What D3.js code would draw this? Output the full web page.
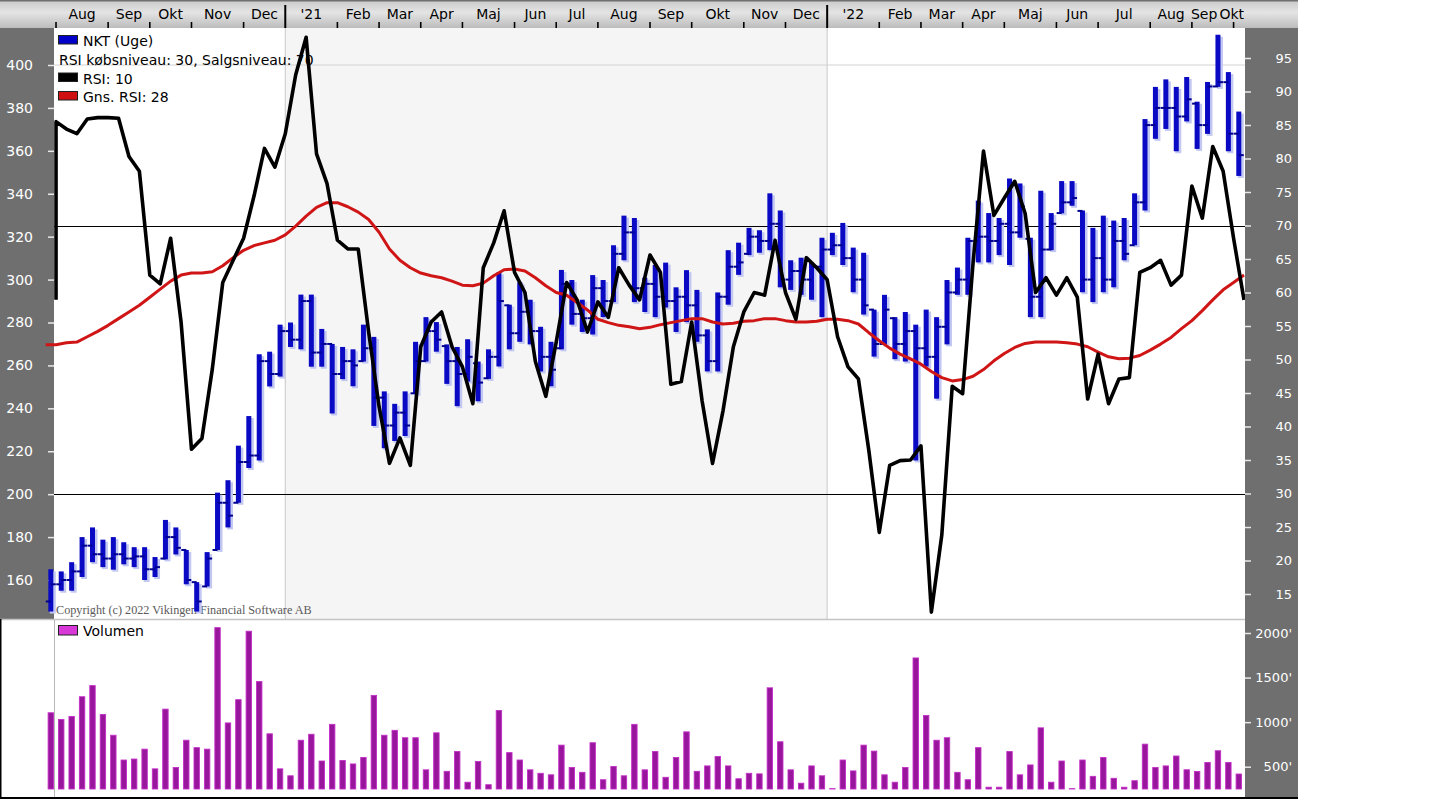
<!DOCTYPE html>
<html><head><meta charset="utf-8">
<script src="https://cdn.jsdelivr.net/npm/d3@7"></script>
<style>
html,body{margin:0;padding:0;background:#fff;}
svg{display:block;}
</style></head><body>
<svg id="c" width="1440" height="809" font-family="DejaVu Sans, sans-serif"></svg>
<script>
// ---------- DATA ----------
const firstWeek = new Date(2020, 6, 26);   // week ending Sun 26 Jul 2020
const stopWeek  = new Date(2022, 9, 3);    // last week ends Sun 2 Oct 2022
const monthNames = ["Jan","Feb","Mar","Apr","Maj","Jun","Jul","Aug","Sep","Okt","Nov","Dec"];
const priceTicks = [160,180,200,220,240,260,280,300,320,340,360,380,400];
const rsiTicks = [15,20,25,30,35,40,45,50,55,60,65,70,75,80,85,90,95];
const volTicks = [500,1000,1500,2000];
const rsiLevels = [30,70];
const legendLabels = ["NKT (Uge)","RSI købsniveau: 30, Salgsniveau: 70","RSI: 10","Gns. RSI: 28"];
const volLabel = "Volumen";
const copyright = "Copyright (c) 2022 Vikingen Financial Software AB";

const high = [165,164,168.3,180,184.5,178.8,180,177.6,175.3,175.3,
170.7,188,184.5,174,159,173,200.7,206.5,222.6,236.4,
265.2,266.4,279,280,293,293,277,270,268.6,267.5,
279,273.3,247.9,242.1,247.9,271,282.5,280.2,269.8,268.6,
272.2,261.8,267.5,303.3,288.3,298.7,290.6,278,271,304.5,
299.8,290.6,302.1,299.8,316,329.8,328.7,300.9,306.8,307.9,
296.4,304.4,295.2,276.8,294,313.7,317.2,324.1,323,340.2,
332.2,309,310.2,307.9,319.5,321.8,326.4,314.9,312.5,286,
292.9,282.5,284.9,279,286,282.5,299.8,305.6,319.5,336.8,
331,328.7,347.1,344.8,319.5,341.4,331,345.9,345.9,332.2,
324.1,329.8,327.5,328.7,340.2,374.8,389.8,393.3,389.8,394.4,
382.9,392.1,414.1,396.7,378.3];
const low = [145.3,155,155,161.4,168.3,166,164.8,167.3,166,160,
161.4,169.6,171.9,158,145.3,157,174,184.5,196,212.2,
215.7,250.2,254.8,268.6,267.5,259.4,259.4,237.6,253.6,250.3,
261.8,231.8,221.4,224.8,227.1,246.8,261.8,266.4,251.4,241,
252.5,243.3,253.7,259.5,267.5,271,269.8,257.2,250.3,267.5,
279,275.6,274.4,282.5,289.5,309,289.5,284.9,282.5,287,
275.6,280.2,271,257.2,257.2,288.3,302.2,311.4,312.5,313.7,
296.4,295.2,292.9,290.6,282.5,311.4,306.8,294.1,283.7,264.1,
269.8,262.9,261.8,215.7,259.5,244.5,269.8,292.9,292.9,308,
308,311.4,306.8,319.5,282.5,282.5,313.7,330.9,334.4,294.1,
289.5,294.1,296.4,309,316,332.2,365.6,370.2,359.8,373.7,
360.9,367.9,389.8,359.8,348.3];
const open = [150,158,160,164,176,172,170,172,170,171,
165,170,180,174,159,157,174,196,196,215,
218,262,256,276,272,290,266,270,256,262,
262,268,245,232,238,247,262,276,269,262,
256,261,254,264,288,275,285,276,264,268,
298,284,282,296,290,312,322,296,298,292,
290,292,288,274,262,292,306,312,320,318,
326,300,304,300,306,314,316,310,300,286,
270,282,270,276,268,264,278,294,300,318,
320,318,326,322,319,292,314,331,336,332,
300,310,300,318,316,336,372,380,380,376,
382,372,390,392,368];
const close = [158,160,164,176,172,170,172,170,171,165,
166,180,175,160,150,170,196,190,215,218,
262,256,276,272,290,266,270,256,262,260,
268,245,232,238,232,262,276,272,262,256,
264,252,264,290,275,285,276,264,258,298,
284,282,296,290,312,322,296,298,292,290,
292,288,274,262,292,306,308,320,318,326,
300,304,300,306,314,316,310,300,288,270,
286,270,276,268,264,278,294,300,318,320,
318,326,322,334,292,314,326,336,338,300,
310,300,318,312,336,372,380,380,376,384,
372,390,392,368,358];
const rsiStart = 58.9;
const rsi = [85.5,84.4,83.7,85.9,86.1,86.1,86.0,80.3,78.1,62.6,
61.3,68.1,55.6,36.6,38.2,48.6,61.5,64.8,68.1,74.4,
81.5,78.7,83.7,92.5,98.1,80.7,76.3,67.8,66.5,66.5,
54.1,43.0,34.5,38.3,34.2,51.9,55.6,57.1,51.9,48.9,
43.4,63.7,67.4,72.2,63.0,60.0,49.7,44.5,52.6,61.5,
58.9,54.1,58.6,56.3,63.7,61.1,58.9,65.6,63.0,46.3,
46.7,55.6,43.8,34.5,42.3,51.9,57.1,60.0,59.6,67.8,
60.0,56.0,65.2,63.7,61.9,53.4,48.9,47.1,36.4,24.2,
34.2,34.9,35.0,37.1,12.3,23.8,46.0,44.9,64.4,81.1,
71.5,74.1,76.6,71.8,60.0,62.2,59.6,62.2,59.3,44.1,
50.8,43.4,47.1,47.3,63.0,63.7,64.8,61.1,62.6,75.9,
71.1,81.8,78.1,68.1,58.9];
const rsiAvg = [52.2,52.5,52.6,53.4,54.2,55.1,56.1,57.1,58.1,59.3,
60.5,61.7,62.6,62.9,62.9,63.1,64.0,65.2,66.3,67.0,
67.4,67.8,68.6,69.9,71.4,72.7,73.4,73.4,72.8,72.0,
70.9,69.0,66.5,64.8,63.7,62.9,62.5,62.2,61.7,61.1,
61.0,61.4,62.5,63.4,63.5,63.2,62.2,61.0,60.0,59.6,
58.5,57.4,56.0,55.5,55.1,54.9,54.6,54.8,55.2,55.5,
55.8,56.1,56.1,55.6,55.3,55.4,55.7,55.8,56.1,56.1,
55.8,55.6,55.6,55.7,56.0,56.0,55.8,55.3,54.0,52.8,
51.7,50.8,50.1,49.3,48.2,47.3,46.8,47.0,47.5,48.5,
49.8,50.9,51.8,52.4,52.6,52.6,52.6,52.5,52.3,51.9,
51.1,50.4,50.1,50.2,50.6,51.4,52.3,53.3,54.6,55.8,
57.3,58.9,60.4,61.5,62.6];
const volume = [1105,1030,1063,1285,1410,1085,853,575,586,697,
476,1146,492,797,714,697,2060,991,1252,2020,
1455,869,476,398,797,864,564,975,570,531,
603,1300,853,908,825,825,465,880,448,670,
326,559,298,1130,658,575,465,426,409,742,
492,437,769,354,503,398,975,465,670,381,
603,891,448,509,614,509,365,426,420,1385,
780,465,315,509,398,254,575,453,742,675,
409,326,492,1720,1074,797,825,437,354,714,
270,270,670,409,520,936,326,564,254,575,
392,603,370,270,343,753,492,509,620,466,
447,548,679,548,418];

// ---------- LAYOUT ----------
const L = 54, R = 1245, RA = 1298, TOP = 28, PB = 619, VT = 620, VB = 797;
const svg = d3.select('#c');

const weeks = d3.timeSunday.range(firstWeek, stopWeek);
const idx = d3.range(weeks.length);
const x = d3.scaleBand().domain(weeks).range([45.6, 1244]).padding(0);
const bw = x.bandwidth();
const cx = i => x(weeks[i]) + bw / 2;
const xr = i => x(weeks[i]) + bw;
const yP = d3.scaleLinear().domain([160, 400]).range([580, 65]);
const yR = d3.scaleLinear().domain([15, 95]).range([594, 58]);
const yV = d3.scaleLinear().domain([250, 2000]).range([789, 633]);

const defs = svg.append('defs');
const gr = defs.append('linearGradient').attr('id','topg').attr('x1',0).attr('y1',0).attr('x2',0).attr('y2',1);
gr.append('stop').attr('offset','0').attr('stop-color','#c9c9c9');
gr.append('stop').attr('offset','0.45').attr('stop-color','#e4e4e4');
gr.append('stop').attr('offset','1').attr('stop-color','#bcbcbc');
defs.append('clipPath').attr('id','clipP').append('rect').attr('x',45).attr('y',TOP).attr('width',R-45).attr('height',PB-TOP);
defs.append('clipPath').attr('id','clipV').append('rect').attr('x',45).attr('y',VT).attr('width',R-45).attr('height',VB-VT);

// month ticks
const months = [];
idx.forEach(i => { if (i > 0 && weeks[i].getMonth() !== weeks[i-1].getMonth()) months.push(i); });
const yearStarts = months.filter(i => weeks[i].getMonth() === 0);

// top strip
svg.append('rect').attr('x',0).attr('y',0).attr('width',RA).attr('height',TOP).attr('fill','url(#topg)');
svg.append('rect').attr('x',0).attr('y',0).attr('width',RA).attr('height',1.5).attr('fill','#707070');

// price panel background
svg.append('rect').attr('x',L).attr('y',TOP).attr('width',R-L).attr('height',PB-TOP).attr('fill','#fff');
svg.append('rect').attr('x',x(weeks[yearStarts[0]])).attr('y',TOP)
  .attr('width',x(weeks[yearStarts[1]])-x(weeks[yearStarts[0]])).attr('height',PB-TOP).attr('fill','#f5f5f5');
yearStarts.forEach(i => svg.append('line').attr('x1',x(weeks[i])).attr('x2',x(weeks[i]))
  .attr('y1',TOP).attr('y2',PB).attr('stroke','#c8c8c8').attr('stroke-width',1));
svg.append('line').attr('x1',L).attr('x2',R).attr('y1',yP(400)).attr('y2',yP(400)).attr('stroke','#d2d2d2');

// axis blocks
svg.append('rect').attr('x',0).attr('y',TOP).attr('width',L).attr('height',PB-TOP).attr('fill','#6f6f6f');
svg.append('rect').attr('x',R).attr('y',TOP).attr('width',RA-R).attr('height',VB-TOP).attr('fill','#6f6f6f');
svg.append('line').attr('x1',0).attr('x2',R).attr('y1',PB+0.5).attr('y2',PB+0.5).attr('stroke','#c4c4c4').attr('stroke-width',1.5);

// rsi levels
rsiLevels.forEach(v => svg.append('line').attr('x1',L).attr('x2',R).attr('y1',Math.round(yR(v))+0.5).attr('y2',Math.round(yR(v))+0.5)
  .attr('stroke','#000').attr('stroke-width',1.2));

// top axis ticks & labels
const gt = svg.append('g');
const labs = [];
months.forEach((i, k) => {
  const tx = x(weeks[i]);
  const isYear = weeks[i].getMonth() === 0;
  gt.append('line').attr('x1',tx).attr('x2',tx).attr('y1',isYear?5:22).attr('y2',TOP)
    .attr('stroke','#000').attr('stroke-width',isYear?2:1.6);
  const nx = k < months.length - 1 ? x(weeks[months[k+1]]) : x.range()[1];
  const lab = isYear ? "'" + String(weeks[i].getFullYear()).slice(2) : monthNames[weeks[i].getMonth()];
  const t = gt.append('text').attr('y',19).attr('font-size','14px').attr('fill','#000').attr('text-anchor','middle').text(lab);
  const w = t.node().getComputedTextLength();
  labs.push({t, w, cx: (tx + nx) / 2});
});
// keep labels inside the panel and from running into each other
for (let k = labs.length - 1; k >= 0; k--) {
  let c = Math.min(labs[k].cx, R - labs[k].w / 2 - 1);
  if (k < labs.length - 1) c = Math.min(c, labs[k+1].cx - labs[k+1].w / 2 - labs[k].w / 2 - 2);
  labs[k].cx = c;
  labs[k].t.attr('x', c);
}

// legend
const lg = svg.append('g').attr('font-size','14px').attr('fill','#000');
const swatch = [ '#0000c8', null, '#000000', '#d01010' ];
[46, 65, 83.5, 102].forEach((by, k) => {
  if (swatch[k]) lg.append('rect').attr('x',58.5).attr('y',by-10.5).attr('width',19).attr('height',8.5)
      .attr('fill',swatch[k]).attr('stroke','#202020').attr('stroke-width',1);
  lg.append('text').attr('x', swatch[k] ? 83 : 59).attr('y', by).text(legendLabels[k]);
});
svg.append('text').attr('x',56).attr('y',614).style('font-family','"Liberation Serif", serif').style('font-size','12.2px')
  .attr('fill','#5a5a5a').text(copyright);

// axes
const gL = svg.append('g').attr('transform',`translate(${L},0)`)
  .call(d3.axisLeft(yP).tickValues(priceTicks).tickSize(6).tickPadding(15));
const gR = svg.append('g').attr('transform',`translate(${R},0)`)
  .call(d3.axisRight(yR).tickValues(rsiTicks).tickSize(6).tickPadding(6));
const gV = svg.append('g').attr('transform',`translate(${R},0)`)
  .call(d3.axisRight(yV).tickValues(volTicks).tickSize(6).tickPadding(6).tickFormat(d => d + "'"));
[gL, gR, gV].forEach(g => {
  g.attr('font-family', null);
  g.select('.domain').remove();
  g.selectAll('.tick line').attr('stroke','#e8e8e8').attr('stroke-width',1.5);
  g.selectAll('.tick text').attr('fill','#fff');
});
gL.attr('font-size', 14);
gR.attr('font-size', 13); gV.attr('font-size', 13);
[gR, gV].forEach(g => g.selectAll('.tick text').attr('x',47).attr('text-anchor','end'));

// price bars
const plot = svg.append('g').attr('clip-path','url(#clipP)');
plot.append('g').selectAll('rect').data(idx).join('rect')
  .attr('x', i => cx(i) - 1).attr('y', i => yP(high[i]) + 2).attr('width', 6)
  .attr('height', i => yP(low[i]) - yP(high[i])).attr('fill','#c3c8f2');
plot.append('g').selectAll('rect').data(idx).join('rect')
  .attr('x', i => cx(i) - 2.5).attr('y', i => yP(high[i])).attr('width', 5)
  .attr('height', i => yP(low[i]) - yP(high[i])).attr('fill','#0a0ac4');
plot.append('g').selectAll('line').data(idx).join('line')
  .attr('x1', i => cx(i) - 5).attr('x2', i => cx(i)).attr('y1', i => yP(open[i])).attr('y2', i => yP(open[i]))
  .attr('stroke','#000090').attr('stroke-width',2);
plot.append('g').selectAll('line').data(idx).join('line')
  .attr('x1', i => cx(i)).attr('x2', i => cx(i) + 5).attr('y1', i => yP(close[i])).attr('y2', i => yP(close[i]))
  .attr('stroke','#000090').attr('stroke-width',2);

// average RSI (red) and RSI (black)
const avgPts = [[x(weeks[0]), rsiAvg[0]]].concat(idx.map(i => [xr(i), rsiAvg[i]]));
plot.append('path').datum(avgPts)
  .attr('d', d3.line().x(d => d[0]).y(d => yR(d[1])))
  .attr('fill','none').attr('stroke','#cf1515').attr('stroke-width',3).attr('stroke-linejoin','round');
const rsiPts = [[xr(0), rsiStart]].concat(idx.map(i => [xr(i), rsi[i]]));
plot.append('path').datum(rsiPts)
  .attr('d', d3.line().x(d => d[0]).y(d => yR(d[1])))
  .attr('fill','none').attr('stroke','#000').attr('stroke-width',3.6).attr('stroke-linejoin','round');

// volume panel
svg.append('line').attr('x1',L+0.5).attr('x2',L+0.5).attr('y1',VT).attr('y2',VB).attr('stroke','#b8b8b8');
svg.append('rect').attr('x',58.5).attr('y',625.5).attr('width',19).attr('height',9.5)
  .attr('fill','#d838d8').attr('stroke','#202020').attr('stroke-width',1);
svg.append('text').attr('x',83).attr('y',636).attr('font-size','14px').attr('fill','#000').text(volLabel);
svg.append('g').attr('clip-path','url(#clipV)').selectAll('rect').data(idx).join('rect')
  .attr('x', i => cx(i) - 2.7).attr('y', i => yV(volume[i])).attr('width', 5.4)
  .attr('height', i => yV(250) - yV(volume[i])).attr('fill','#98169c').attr('stroke','#c42ec8').attr('stroke-width',0.9);
svg.append('rect').attr('x',0).attr('y',PB).attr('width',1.5).attr('height',VB-PB+1).attr('fill','#000');
svg.append('rect').attr('x',0).attr('y',VB).attr('width',RA).attr('height',2).attr('fill','#000');
</script>
</body></html>
